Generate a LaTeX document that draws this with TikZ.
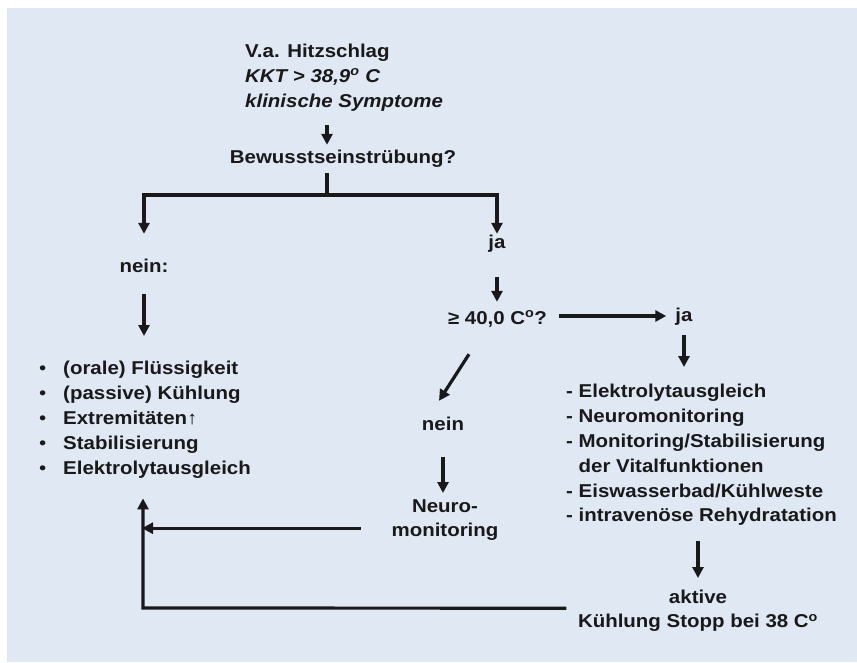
\documentclass[tikz,border=0pt]{standalone}
\usepackage{fontspec}
\setmainfont{Liberation Sans}[FakeStretch=1.1]
\usetikzlibrary{arrows.meta,calc}
\definecolor{bgblue}{RGB}{223,232,243}
\definecolor{txt}{RGB}{25,25,25}
\newcommand\mytopst{\rule{0pt}{14pt}}
\newcommand\mybotst{\rule[-4pt]{0pt}{4pt}}
\begin{document}
\begin{tikzpicture}[x=1pt,y=-1pt,
  lbl/.style={inner sep=0pt,text=txt,font=\fontsize{18.6}{24.8}\selectfont\bfseries,text height=14pt,text depth=4pt},
  blk/.style={inner sep=0pt,text=txt,font=\fontsize{18.6}{#1}\selectfont\bfseries},
  ln/.style={draw=txt,line width=3.2pt},
  arr/.style={ln,-{Triangle[length=11pt,width=11pt]}}]
\useasboundingbox (0,0) rectangle (857,662);
\fill[bgblue] (7,8) rectangle (857,662);

% nodes
\node[blk=25, align=left, anchor=north west] (top) at (245,43)
  {\mytopst V.a. Hitzschlag\\ \textit{KKT > 38,9\textsuperscript{o} C}\\ \textit{klinische Symptome}\mybotst};
\node[lbl, anchor=base] (bew) at (343,163.3) {Bewusstseinstrübung?};
\coordinate (split) at (327,195);
\node[lbl, anchor=base] (nein1) at (144,272) {nein:};
\node[lbl, anchor=base] (ja1) at (497,248) {ja};
\node[lbl, anchor=base] (ge) at (497.5,324) {≥ 40,0 C\textsuperscript{o}?};
\node[lbl, anchor=base] (ja2) at (684,321) {ja};
\node[blk=24.8, align=left, anchor=north west] (rlist) at (566,383.7)
  {\mytopst - Elektrolytausgleich\\
   - Neuromonitoring\\
   - Monitoring/Stabilisierung\\
   \hphantom{-~}der Vitalfunktionen\\
   - Eiswasserbad/Kühlweste\\
   - intravenöse Rehydratation\mybotst};
\node[blk=25, align=left, anchor=north west] (llist) at (39,360)
  {\mytopst\makebox[24pt][l]{\mdseries •}(orale) Flüssigkeit\\
   \makebox[24pt][l]{\mdseries •}(passive) Kühlung\\
   \makebox[24pt][l]{\mdseries •}Extremitäten{\mdseries ↑}\\
   \makebox[24pt][l]{\mdseries •}Stabilisierung\\
   \makebox[24pt][l]{\mdseries •}Elektrolytausgleich\mybotst};
\node[lbl, anchor=base] (nein2) at (443,430.7) {nein};
\node[blk=24, align=center, anchor=north] (neuro) at (445,498.7)
  {\mytopst Neuro-\\ monitoring\mybotst};
\node[blk=24.4, align=center, anchor=north] (aktiv) at (698,589.3)
  {\mytopst aktive\\ Kühlung Stopp bei 38 C\textsuperscript{o}\mybotst};
\coordinate (loopc) at (143,608);

% connectors
\draw[arr, shorten <=14pt, shorten >=4.3pt] (split |- top.south) -- (split |- bew.north);
\draw[ln, shorten <=5.7pt] (split |- bew.south) -- (split);
\draw[arr, shorten >=24pt] (split) -| (nein1.north);
\draw[arr] (split) -| (ja1.north);
\draw[arr, shorten <=18pt, shorten >=24pt] (nein1.south) -- (nein1.south |- llist.north);
\draw[arr, shorten <=25pt, shorten >=8pt] (ja1.south) -- (ja1.south |- ge.north);
\draw[arr, shorten <=11.5pt, shorten >=9pt] (ja2.west -| ge.east) -- (ja2.west);
\draw[arr, shorten <=10pt, shorten >=16.7pt] (ja2.south) -- (ja2.south |- rlist.north);
\draw[arr] ($(ge.south)+(-28.5,26)$) -- ($(nein2.north)+(-4,-15.7)$);
\draw[arr, shorten <=22.3pt, shorten >=5.7pt] (nein2.south) -- (nein2.south |- neuro.north);
\draw[arr, shorten >=-1pt] ($(neuro.west)+(-30.6,8.3)$) coordinate (c9s) -- (c9s -| loopc);
\draw[arr, shorten >=20pt] ($(aktiv.west)+(-11.5,-2.5)$) -- (loopc) -- (loopc |- llist.south);
\draw[arr, shorten <=15.3pt, shorten >=11.3pt] (aktiv.north |- rlist.south) -- (aktiv.north);
\end{tikzpicture}
\end{document}
